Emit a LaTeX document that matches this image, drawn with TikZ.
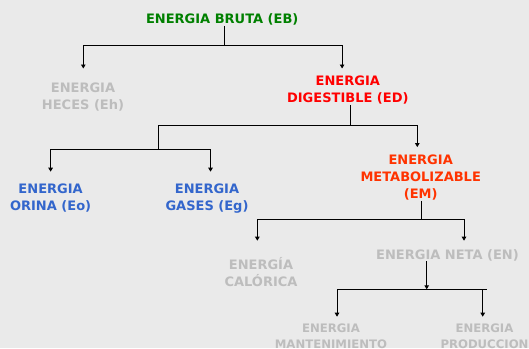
\documentclass[tikz,border=0pt]{standalone}
\usepackage{fontspec}
\setmainfont{DejaVu Sans}
\usetikzlibrary{arrows.meta}
\definecolor{bg}{HTML}{EAEAEA}
\definecolor{cgreen}{HTML}{008000}
\definecolor{cred}{HTML}{FF0000}
\definecolor{corange}{HTML}{FF3300}
\definecolor{cblue}{HTML}{3366CC}
\definecolor{cgray}{HTML}{BDBDBD}
\tikzset{
  lbl/.style={inner sep=0pt, align=center, font=\fontsize{13}{17}\selectfont\bfseries},
  lbls/.style={inner sep=0pt, align=center, font=\fontsize{11.7}{15.5}\selectfont\bfseries},
  conn/.style={draw=black, line width=0.9pt},
  arr/.style={conn, -{Triangle[length=4pt,width=4.5pt]}}
}
\begin{document}
\begin{tikzpicture}[x=1pt,y=-1pt]
\fill[bg] (0,0) rectangle (529,348);
\useasboundingbox (0,0) rectangle (529,348);
% nodes
\node[lbl, text=cgreen] (EB) at (222.2,19.9) {ENERGIA BRUTA (EB)};
\node[lbl, text=cgray] (Eh) at (83,97.5) {ENERGIA\\HECES (Eh)};
\node[lbl, text=cred] (ED) at (347.8,90.5) {ENERGIA\\DIGESTIBLE (ED)};
\node[lbl, text=cblue] (Eo) at (50.6,198.5) {ENERGIA\\ORINA (Eo)};
\node[lbl, text=cblue] (Eg) at (207,198.5) {ENERGIA\\GASES (Eg)};
\node[lbl, text=corange] (EM) at (420.7,178) {ENERGIA\\METABOLIZABLE\\(EM)};
\node[lbl, text=cgray] (EC) at (261,272.5) {ENERGÍA\\CALÓRICA};
\node[lbl, text=cgray] (EN) at (447.5,255.5) {ENERGIA NETA (EN)};
\node[lbls, text=cgray] (Ema) at (331,336) {ENERGIA\\MANTENIMIENTO};
\node[lbls, text=cgray] (Epr) at (484.5,336) {ENERGIA\\PRODUCCION};
% junctions and tips
\coordinate (a0) at (224.4,45.5);
\coordinate (tEh) at (83.3,68.5);
\coordinate (tED) at (342.1,68.5);
\coordinate (b0) at (350.9,125.2);
\coordinate (c0) at (158.6,149.1);
\coordinate (tEM) at (417.3,147.1);
\coordinate (tEo) at (50.6,171.7);
\coordinate (tEg) at (210.5,171.7);
\coordinate (d0) at (421.3,219);
\coordinate (tEC) at (257.3,240.7);
\coordinate (tEN) at (464,240.7);
\coordinate (e0) at (426.7,289.3);
\coordinate (e1) at (487.3,289.3);
\coordinate (tMa) at (337,316.7);
\coordinate (tPr) at (482.7,316.7);
% connectors
\draw[conn] (EB.south -| a0) -- (a0);
\draw[arr] (a0) -| (tEh);
\draw[arr] (a0) -| (tED);
\draw[conn] (ED.south -| b0) -- (b0);
\draw[conn] (b0) -| (c0);
\draw[arr] (b0) -| (tEM);
\draw[arr] (c0) -| (tEo);
\draw[arr] (c0) -| (tEg);
\draw[conn] (EM.south -| d0) -- (d0);
\draw[arr] (d0) -| (tEC);
\draw[arr] (d0) -| (tEN);
\draw[arr] (EN.south -| e0) -- (e0);
\draw[conn] (e0) -- (e1);
\draw[arr] (e0) -| (tMa);
\draw[arr] (e0) -| (tPr);
\end{tikzpicture}
\end{document}
